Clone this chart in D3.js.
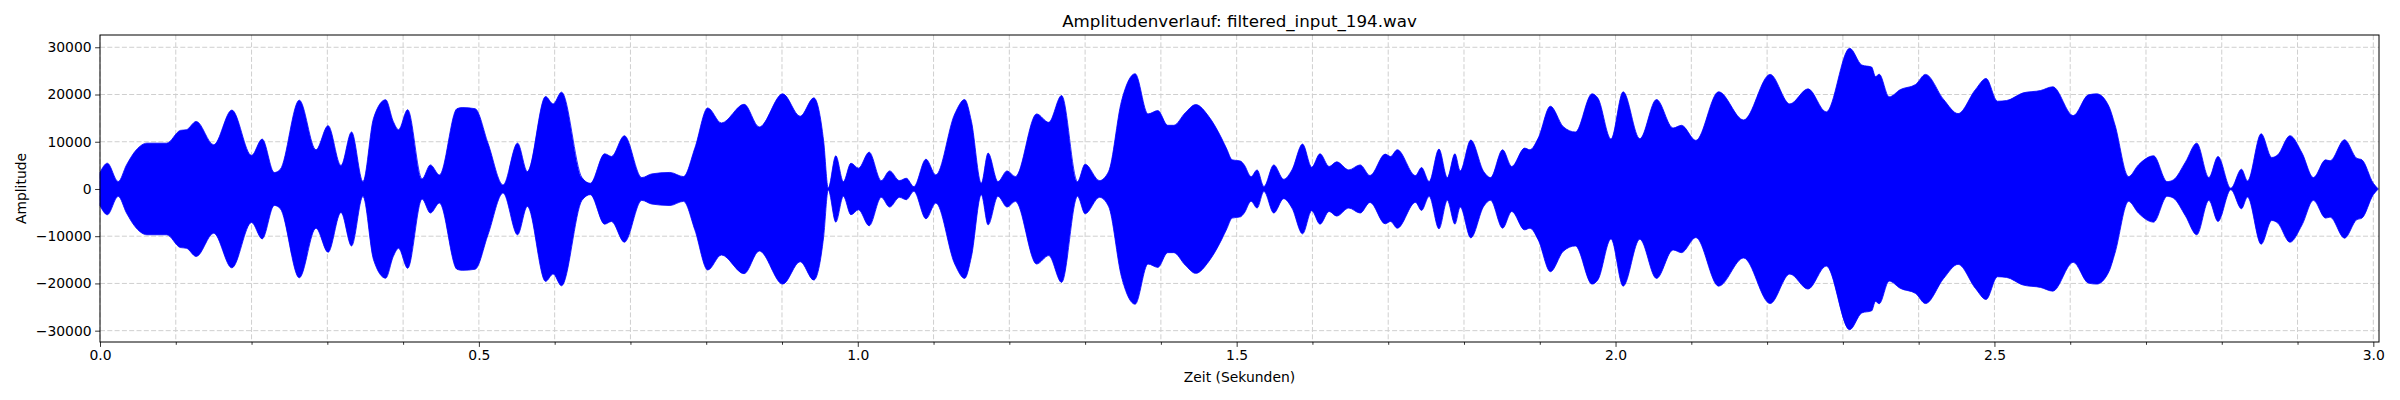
<!DOCTYPE html>
<html>
<head>
<meta charset="utf-8">
<script src="https://cdn.jsdelivr.net/npm/d3@7"></script>
<style>
  body { margin: 0; background: #fff; }
  text { font-family: "DejaVu Sans", sans-serif; }
</style>
</head>
<body>
<div id="chart"></div>
<script>
// Envelope of the waveform (seconds / amplitude).
const times = [
  0.000, 0.0097, 0.024, 0.035, 0.048, 0.062, 0.088, 0.106, 0.114, 0.127,
  0.150, 0.174, 0.200, 0.214, 0.230, 0.238, 0.263, 0.285, 0.301, 0.318,
  0.332, 0.347, 0.361, 0.377, 0.387, 0.394, 0.406, 0.425, 0.436, 0.448,
  0.471, 0.478, 0.495, 0.512, 0.532, 0.551, 0.564, 0.588, 0.598, 0.609,
  0.636, 0.647, 0.666, 0.675, 0.692, 0.715, 0.728, 0.752, 0.770, 0.785,
  0.802, 0.820, 0.850, 0.870, 0.901, 0.924, 0.942, 0.955, 0.961, 0.971,
  0.981, 0.991, 1.001, 1.015, 1.031, 1.042, 1.055, 1.064, 1.074, 1.090,
  1.103, 1.128, 1.141, 1.150, 1.163, 1.172, 1.185, 1.197, 1.208, 1.236,
  1.252, 1.269, 1.290, 1.300, 1.319, 1.331, 1.348, 1.366, 1.383, 1.396,
  1.409, 1.417, 1.432, 1.446, 1.463, 1.480, 1.487, 1.494, 1.505, 1.510,
  1.519, 1.527, 1.536, 1.549, 1.562, 1.573, 1.587, 1.599, 1.610, 1.622,
  1.632, 1.648, 1.663, 1.676, 1.696, 1.703, 1.712, 1.736, 1.744, 1.754,
  1.767, 1.778, 1.788, 1.795, 1.809, 1.826, 1.835, 1.851, 1.863, 1.880,
  1.887, 1.898, 1.914, 1.931, 1.947, 1.969, 1.977, 1.994, 2.010, 2.032,
  2.054, 2.076, 2.087, 2.106, 2.136, 2.169, 2.204, 2.230, 2.254, 2.278,
  2.309, 2.325, 2.338, 2.343, 2.348, 2.361, 2.376, 2.396, 2.409, 2.433,
  2.452, 2.475, 2.489, 2.504, 2.516, 2.538, 2.561, 2.577, 2.604, 2.624,
  2.635, 2.651, 2.659, 2.677, 2.690, 2.710, 2.728, 2.736, 2.752, 2.767,
  2.783, 2.795, 2.812, 2.826, 2.834, 2.852, 2.866, 2.874, 2.890, 2.906,
  2.921, 2.937, 2.943, 2.962, 2.978, 2.985, 3.000, 3.006
];
const envelope = [
  3500, 5460, 1560, 5100, 8300, 9700, 9700, 12400, 12550, 14300,
  9360, 16700, 7100, 10570, 3480, 4180, 18800, 8300, 13400, 4960,
  12060, 1560, 15000, 18900, 14300, 12550, 16800, 2130, 5100, 2980,
  17000, 17230, 17000, 9700, 850, 9700, 3690, 19570, 18000, 20500,
  2410, 1200, 7450, 6880, 11280, 2410, 3190, 3500, 2620, 8650,
  17160, 13970, 17940, 13120, 20140, 15390, 19290, 10070, 200, 7020,
  1560, 5460, 4400, 7800, 1770, 3830, 1770, 2270, 500, 6310,
  2980, 15900, 18940, 14300, 1200, 7590, 1560, 3830, 2620, 15890,
  14110, 19790, 1560, 5250, 1770, 3690, 18580, 24400, 15890, 16600,
  13480, 13480, 16100, 17870, 15390, 10780, 8440, 6170, 5900, 5100,
  2620, 4040, 500, 5100, 2060, 4040, 9500, 4610, 7450, 4750,
  5740, 4040, 5100, 2840, 7380, 6880, 8300, 2840, 4540, 1560,
  8440, 2410, 7450, 3830, 10350, 3690, 2410, 8300, 4750, 8650,
  8300, 10780, 17520, 13190, 12060, 20140, 19150, 10570, 20570, 10640,
  18940, 12910, 13480, 10280, 20570, 14610, 24260, 18010, 21200, 16310,
  29790, 26240, 25800, 23800, 24300, 19500, 21060, 22130, 24260, 18940,
  15960, 21060, 23400, 18580, 18720, 20350, 20850, 21630, 15530, 19930,
  20140, 17520, 13620, 2620, 5100, 7020, 1560, 1910, 5670, 9700,
  2410, 6880, 140, 4180, 1700, 11700, 6670, 7230, 11280, 7590,
  2410, 6170, 5960, 10430, 6520, 6170, 1200, 100
];
const xMajorTicks = [0.0, 0.5, 1.0, 1.5, 2.0, 2.5, 3.0];
const xMinorTicks = d3.range(0, 31).map(i => i / 10).filter(v => Math.round(v * 10) % 5 !== 0);
const yTicks = [-30000, -20000, -10000, 0, 10000, 20000, 30000];

const width = 2400;
const height = 400;
const margin = { top: 35, right: 21, bottom: 58, left: 100 };

function main() {
  const svg = d3.select("#chart")
    .append("svg")
    .attr("width", width)
    .attr("height", height);

  const x = d3.scaleLinear()
    .domain([0, 3.0075])
    .range([margin.left, width - margin.right]);
  const y = d3.scaleLinear()
    .domain([-32400, 32600])
    .range([height - margin.bottom, margin.top]);

  const gridColor = "#cfcfcf";

  // grid (under the signal)
  svg.append("g")
    .selectAll("line")
    .data(xMajorTicks.concat(xMinorTicks))
    .join("line")
    .attr("x1", d => x(d)).attr("x2", d => x(d))
    .attr("y1", margin.top).attr("y2", height - margin.bottom)
    .attr("stroke", gridColor)
    .attr("stroke-width", 1)
    .attr("stroke-dasharray", "5,2.3");
  svg.append("g")
    .selectAll("line")
    .data(yTicks)
    .join("line")
    .attr("x1", margin.left).attr("x2", width - margin.right)
    .attr("y1", d => y(d)).attr("y2", d => y(d))
    .attr("stroke", gridColor)
    .attr("stroke-width", 1)
    .attr("stroke-dasharray", "5,2.3");

  // waveform as filled envelope
  const pts = times.map((t, i) => ({ t: t, a: envelope[i] }));
  const area = d3.area()
    .x(d => x(d.t))
    .y0(d => y(-d.a))
    .y1(d => y(d.a))
    .curve(d3.curveMonotoneX);
  svg.append("path")
    .datum(pts)
    .attr("fill", "#0000ff")
    .attr("stroke", "#0000ff")
    .attr("stroke-width", 0.8)
    .attr("d", area);

  // axes
  const xAxis = svg.append("g")
    .attr("transform", `translate(0,${height - margin.bottom})`)
    .call(d3.axisBottom(x).tickValues(xMajorTicks).tickFormat(d3.format(".1f")).tickSizeOuter(0).tickSize(4.9).tickPadding(3.5));
  svg.append("g")
    .attr("transform", `translate(0,${height - margin.bottom})`)
    .call(d3.axisBottom(x).tickValues(xMinorTicks).tickFormat("").tickSizeOuter(0).tickSize(2.8))
    .call(g => g.select(".domain").remove());
  const yAxis = svg.append("g")
    .attr("transform", `translate(${margin.left},0)`)
    .call(d3.axisLeft(y).tickValues(yTicks).tickFormat(d => d < 0 ? "\u2212" + Math.abs(d) : d).tickSizeOuter(0).tickSize(4.9).tickPadding(3.5));

  svg.selectAll(".tick text")
    .attr("font-family", "DejaVu Sans")
    .attr("font-size", 13.9)
    .attr("fill", "#000");
  svg.selectAll(".tick line").attr("stroke", "#000").attr("stroke-width", 0.8);
  xAxis.select(".domain").remove();
  yAxis.select(".domain").remove();

  // frame
  svg.append("rect")
    .attr("x", margin.left)
    .attr("y", margin.top)
    .attr("width", width - margin.left - margin.right)
    .attr("height", height - margin.top - margin.bottom)
    .attr("fill", "none")
    .attr("stroke", "#000")
    .attr("stroke-width", 1);

  // labels
  svg.append("text")
    .attr("x", (margin.left + width - margin.right) / 2)
    .attr("y", 27)
    .attr("text-anchor", "middle")
    .attr("font-size", 16.7)
    .text("Amplitudenverlauf: filtered_input_194.wav");
  svg.append("text")
    .attr("x", (margin.left + width - margin.right) / 2)
    .attr("y", 382)
    .attr("text-anchor", "middle")
    .attr("font-size", 13.9)
    .text("Zeit (Sekunden)");
  svg.append("text")
    .attr("transform", `translate(26,${(margin.top + height - margin.bottom) / 2}) rotate(-90)`)
    .attr("text-anchor", "middle")
    .attr("font-size", 13.9)
    .text("Amplitude");
}

main();
</script>
</body>
</html>
